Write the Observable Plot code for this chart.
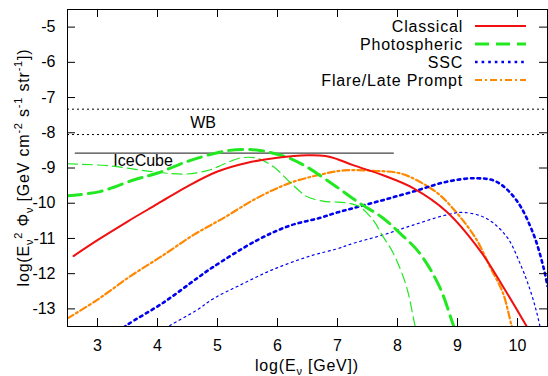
<!DOCTYPE html>
<html><head><meta charset="utf-8">
<script src="https://cdn.jsdelivr.net/npm/d3@7"></script>
<script src="https://cdn.jsdelivr.net/npm/@observablehq/plot@0.6"></script>
<style>
body{margin:0;background:#fff;}
#chart{width:548px;height:376px;position:relative;}
</style>
</head><body><div id="chart"></div>
<script>
// ---- data ----
const xTicks = [3, 4, 5, 6, 7, 8, 9, 10];
const yTicks = [-5, -6, -7, -8, -9, -10, -11, -12, -13];

const classical = [[2.6,-11.5],[3.0,-11.05],[3.5,-10.52],[4.0,-10.02],[4.5,-9.52],[5.0,-9.1],[5.5,-8.85],[6.0,-8.71],[6.5,-8.64],[6.8,-8.66],[7.0,-8.75],[7.26,-8.92],[7.75,-9.2],[8.26,-9.57],[8.82,-10.24],[9.37,-11.33],[9.76,-12.37],[10.14,-13.46],[10.22,-13.7]];
const photoThick = [[2.5,-9.79],[3.04,-9.67],[3.6,-9.34],[3.99,-9.15],[4.54,-8.79],[5.2,-8.5],[5.65,-8.49],[5.93,-8.58],[6.2,-8.72],[6.48,-8.96],[6.98,-9.53],[7.37,-10.0],[7.74,-10.4],[8.04,-10.85],[8.37,-11.42],[8.7,-12.37],[8.93,-13.46],[8.98,-13.7]];
const photoThin = [[2.5,-8.88],[3.21,-8.94],[3.99,-9.12],[4.49,-9.17],[4.88,-9.05],[5.09,-8.9],[5.37,-8.72],[5.65,-8.72],[5.93,-8.96],[6.2,-9.39],[6.48,-9.8],[6.76,-9.94],[7.0,-9.97],[7.2,-10.0],[7.37,-10.1],[7.59,-10.47],[7.76,-10.95],[7.93,-11.42],[8.15,-12.37],[8.29,-13.46],[8.33,-13.7]];
const sscThick = [[3.35,-13.65],[3.49,-13.46],[4.1,-12.82],[4.66,-12.13],[4.91,-11.83],[5.65,-11.06],[6.2,-10.64],[6.7,-10.42],[6.98,-10.27],[7.26,-10.14],[7.74,-9.92],[8.26,-9.67],[8.82,-9.39],[9.32,-9.29],[9.65,-9.39],[9.98,-9.91],[10.26,-10.85],[10.43,-11.8],[10.5,-12.35]];
const sscThin = [[4.05,-13.65],[4.22,-13.46],[4.66,-13.03],[4.94,-12.7],[5.37,-12.33],[5.9,-11.9],[6.54,-11.5],[6.98,-11.3],[7.26,-11.14],[7.76,-10.9],[8.26,-10.62],[8.82,-10.33],[9.09,-10.26],[9.48,-10.43],[9.82,-10.95],[10.04,-11.7],[10.21,-12.46],[10.32,-13.1],[10.4,-13.7]];
const flare = [[2.5,-13.27],[2.99,-12.75],[3.55,-12.07],[4.1,-11.47],[4.6,-10.9],[5.09,-10.43],[5.65,-9.86],[6.2,-9.43],[6.76,-9.17],[7.1,-9.07],[7.6,-9.08],[8.04,-9.15],[8.37,-9.39],[8.7,-9.76],[9.04,-10.38],[9.32,-11.04],[9.54,-11.8],[9.76,-12.56],[9.9,-13.46],[9.95,-13.7]];

const wbLevels = [-7.33, -8.05];
const iceCube = [[2.63,-8.58],[7.93,-8.58]];
const annotations = [{x: 4.76, y: -7.72, text: "WB"}, {x: 3.76, y: -8.79, text: "IceCube"}];
const legendLabels = ["Classical", "Photospheric", "SSC", "Flare/Late Prompt"];

// ---- styles ----
const styles = {
  classical: {stroke: "#f01010", strokeWidth: 2},
  photoThick: {stroke: "#22e822", strokeWidth: 3, strokeDasharray: "14,7"},
  photoThin: {stroke: "#22e822", strokeWidth: 1.2, strokeDasharray: "10,5"},
  sscThick: {stroke: "#0000f0", strokeWidth: 2.6, strokeDasharray: "2.6,4"},
  sscThin: {stroke: "#0000f0", strokeWidth: 1.2, strokeDasharray: "2,3.5"},
  flare: {stroke: "#ff8800", strokeWidth: 2.2, strokeDasharray: "7,3,2,3"}
};
const legendStyles = [styles.classical, styles.photoThick, styles.sscThick, styles.flare];

const pts = arr => arr.map(([x, y]) => ({x, y}));
const W = 548, H = 376, mL = 67, mR = 1, mT = 9, mB = 50;
const innerW = W - mL - mR, innerH = H - mT - mB, tk = 8;
const font = "'Liberation Sans', Arial, Helvetica, sans-serif";

const curve = (data, st) => Plot.line(pts(data), {x: "x", y: "y", curve: "catmull-rom", clip: true, ...st});

const plot = Plot.plot({
  width: W, height: H,
  marginLeft: mL, marginRight: mR, marginTop: mT, marginBottom: mB,
  style: {fontSize: "16px", fontFamily: font, color: "black", background: "white"},
  x: {domain: [2.5, 10.5]},
  y: {domain: [-13.5, -4.5]},
  marks: [
    Plot.ruleY(wbLevels, {stroke: "black", strokeWidth: 1, strokeDasharray: "2,3"}),
    Plot.line(pts(iceCube), {x: "x", y: "y", stroke: "#444", strokeWidth: 1.3}),
    Plot.text(annotations, {x: "x", y: "y", text: "text", fontSize: 16, fill: "black", style: "letter-spacing:0.8px"}),
    curve(flare, styles.flare),
    curve(sscThin, styles.sscThin),
    curve(sscThick, styles.sscThick),
    curve(photoThin, styles.photoThin),
    curve(photoThick, styles.photoThick),
    curve(classical, styles.classical),
    Plot.ruleX(xTicks, {stroke: "black", insetTop: innerH - tk}),
    Plot.ruleX(xTicks, {stroke: "black", insetBottom: innerH - tk}),
    Plot.ruleY(yTicks, {stroke: "black", insetRight: innerW - tk}),
    Plot.ruleY(yTicks, {stroke: "black", insetLeft: innerW - tk}),
    Plot.frame({stroke: "black", strokeWidth: 1}),
    Plot.axisX({ticks: xTicks, tickSize: 0, tickPadding: 13, label: null, tickFormat: d => String(d)}),
    Plot.axisY({ticks: yTicks, tickSize: 0, tickPadding: 12, label: null, tickFormat: d => String(d)})
  ]
});
document.getElementById("chart").appendChild(plot);

const svg = d3.select(plot);
// x label
const xl = svg.append("text").attr("x", (mL + W - mR) / 2).attr("y", 371)
  .attr("text-anchor", "middle").attr("font-size", 16).attr("font-family", font)
  .style("letter-spacing", "0.8px").attr("fill", "black");
xl.append("tspan").text("log(E");
xl.append("tspan").attr("dy", 4).attr("font-size", 11).text("ν");
xl.append("tspan").attr("dy", -4).text(" [GeV])");

// y label
const yl = svg.append("text").attr("transform", `translate(29,${(mT + H - mB) / 2}) rotate(-90)`)
  .attr("text-anchor", "middle").attr("font-size", 16).attr("font-family", font)
  .style("letter-spacing", "0.8px").attr("fill", "black");
const parts = [["log(E", 0, 16], ["ν", 4, 11], ["2", -11, 11], [" Φ", 7, 16], ["ν", 4, 11], [" [GeV cm", -4, 16], ["-2", -7, 11], [" s", 7, 16], ["-1", -7, 11], [" str", 7, 16], ["-1", -7, 11], ["])", 7, 16]];
for (const [t, dy, fs] of parts) yl.append("tspan").attr("dy", dy).attr("font-size", fs).text(t);

// legend
const lg = svg.append("g").attr("font-family", font).attr("font-size", 16);
legendLabels.forEach((lab, i) => {
  const cy = 26 + i * 18;
  lg.append("text").attr("x", 463).attr("y", cy + 6).attr("text-anchor", "end")
    .style("letter-spacing", "0.8px").attr("fill", "black").text(lab);
  const st = legendStyles[i];
  lg.append("line").attr("x1", 475).attr("x2", 526).attr("y1", cy).attr("y2", cy)
    .attr("stroke", st.stroke).attr("stroke-width", st.strokeWidth)
    .attr("stroke-dasharray", st.strokeDasharray || null);
});
</script>
</body></html>
